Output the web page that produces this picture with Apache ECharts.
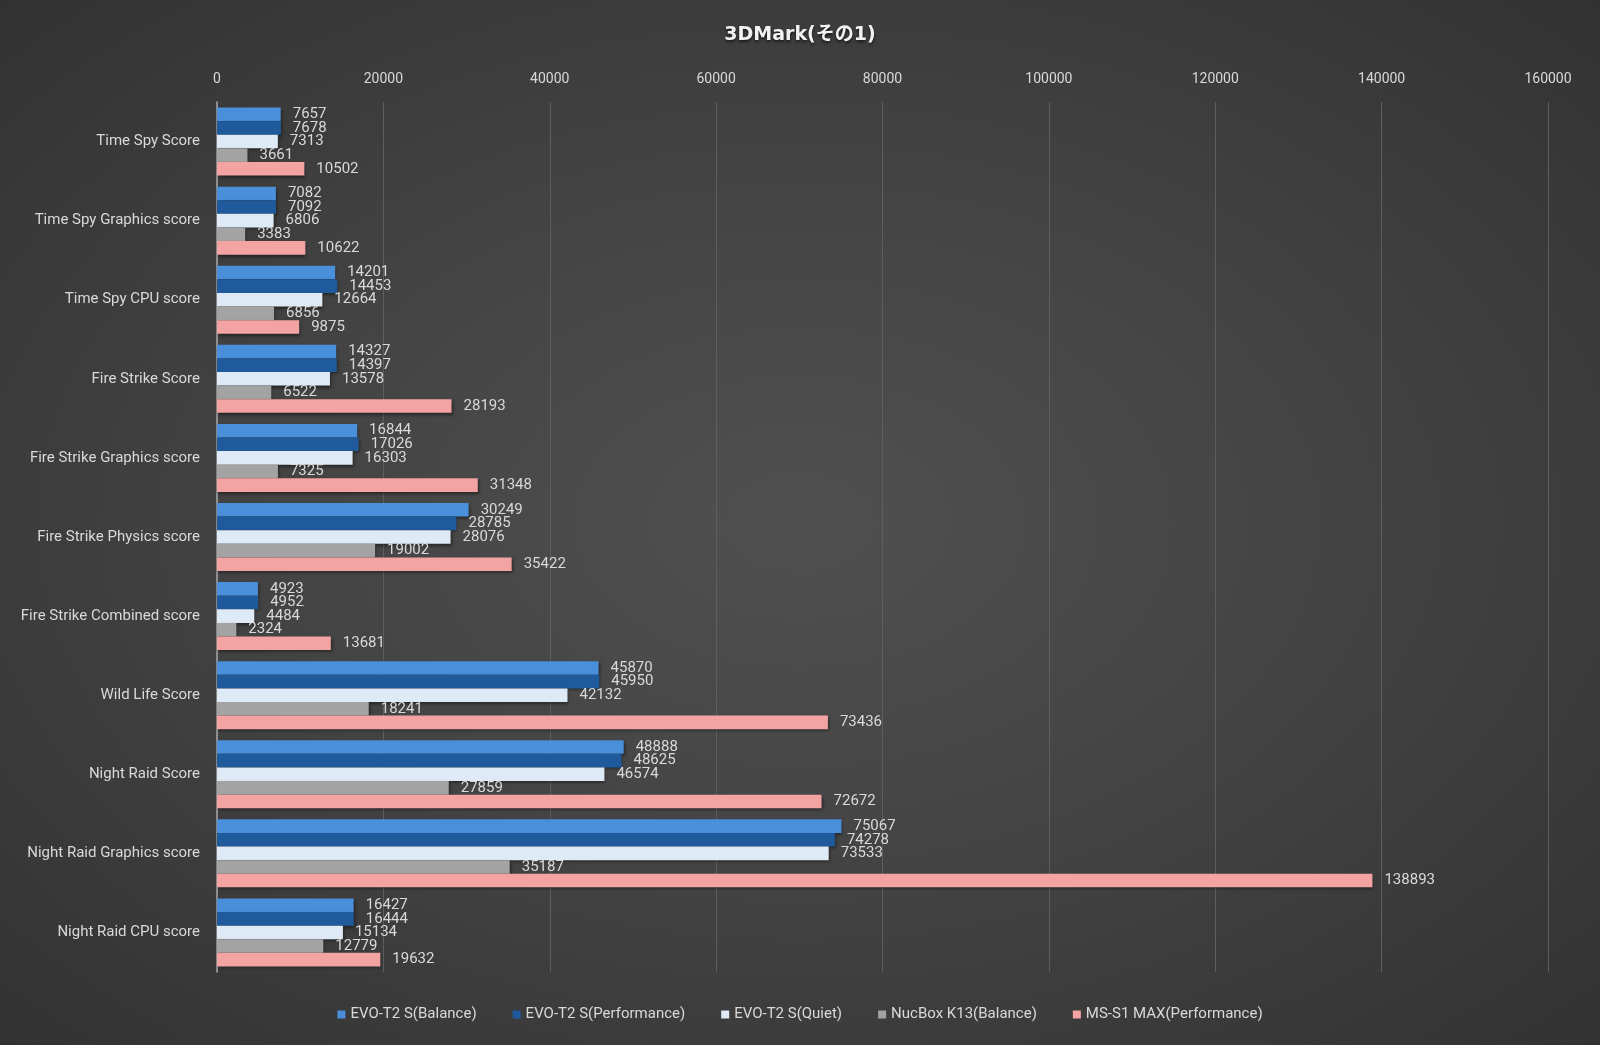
<!DOCTYPE html>
<html lang="ja">
<head>
    <meta charset="UTF-8">
    <title>3DMark</title>
    <script src="https://cdn.jsdelivr.net/npm/echarts@6/dist/echarts.min.js"></script>
    <style>
        *{ margin:0; padding:0; }
        html, body { width:1600px; height:1045px; overflow:hidden; }
        #main {
            width:1600px; height:1045px;
            background: radial-gradient(ellipse at 50% 50%, #505050 0%, #444444 45%, #323232 100%);
        }
    </style>
</head>
<body>
<div id="main"></div>
<script>
    var categories = ['Time Spy Score', 'Time Spy Graphics score', 'Time Spy CPU score',
        'Fire Strike Score', 'Fire Strike Graphics score', 'Fire Strike Physics score',
        'Fire Strike Combined score', 'Wild Life Score', 'Night Raid Score',
        'Night Raid Graphics score', 'Night Raid CPU score'];

    var seriesNames = ['EVO-T2 S(Balance)', 'EVO-T2 S(Performance)', 'EVO-T2 S(Quiet)',
        'NucBox K13(Balance)', 'MS-S1 MAX(Performance)'];

    var evoBalance     = [7657, 7082, 14201, 14327, 16844, 30249, 4923, 45870, 48888, 75067, 16427];
    var evoPerformance = [7678, 7092, 14453, 14397, 17026, 28785, 4952, 45950, 48625, 74278, 16444];
    var evoQuiet       = [7313, 6806, 12664, 13578, 16303, 28076, 4484, 42132, 46574, 73533, 15134];
    var nucboxBalance  = [3661, 3383, 6856, 6522, 7325, 19002, 2324, 18241, 27859, 35187, 12779];
    var msS1Max        = [10502, 10622, 9875, 28193, 31348, 35422, 13681, 73436, 72672, 138893, 19632];

    var colors = ['#4a8fda', '#1f5b9c', '#deebf7', '#a3a3a3', '#f4a3a3'];

    var chart = echarts.init(document.getElementById('main'));

    var seriesData = [evoBalance, evoPerformance, evoQuiet, nucboxBalance, msS1Max];
    var series = seriesData.map(function (d, i) {
        return {
            name: seriesNames[i],
            type: 'bar',
            data: d,
            barGap: '0%',
            barCategoryGap: '14%',
            itemStyle: {
                color: colors[i],
                shadowColor: 'rgba(0,0,0,0.45)',
                shadowBlur: 3,
                shadowOffsetX: 1,
                shadowOffsetY: 2
            },
            label: {
                show: true,
                position: 'right',
                distance: 12,
                color: '#d9d9d9',
                fontSize: 15,
                fontFamily: 'Roboto, "Noto Sans", sans-serif'
            }
        };
    });

    var option = {
        title: {
            text: '3DMark(その1)',
            left: 'center',
            top: 21,
            textStyle: {
                color: '#f2f2f2',
                fontSize: 19,
                fontWeight: 'bold',
                fontFamily: '"DejaVu Sans", "Noto Sans CJK JP", sans-serif',
                textShadowColor: 'rgba(0,0,0,0.6)',
                textShadowBlur: 3,
                textShadowOffsetY: 2
            }
        },
        legend: {
            data: seriesNames,
            bottom: 18,
            left: 'center',
            itemWidth: 8,
            itemHeight: 8,
            itemGap: 36,
            itemTextGap: 5,
            icon: 'rect',
            textStyle: {
                color: '#d9d9d9',
                fontSize: 15,
                fontFamily: 'Roboto, "Noto Sans", sans-serif'
            }
        },
        grid: {
            left: 217,
            right: 52,
            top: 102,
            bottom: 73,
            containLabel: false
        },
        xAxis: {
            type: 'value',
            position: 'top',
            min: 0,
            max: 160000,
            interval: 20000,
            axisLine: { show: false },
            axisTick: { show: false },
            splitLine: { lineStyle: { color: '#5e5e5e', width: 1 } },
            axisLabel: {
                color: '#d9d9d9',
                fontSize: 14,
                margin: 16,
                formatter: function (v) { return String(v); },
                fontFamily: 'Roboto, "Noto Sans", sans-serif'
            }
        },
        yAxis: {
            type: 'category',
            data: categories,
            inverse: true,
            axisLine: { show: true, lineStyle: { color: '#a6a6a6', width: 1.5 } },
            axisTick: { show: false },
            axisLabel: {
                color: '#d9d9d9',
                fontSize: 15,
                margin: 17,
                fontFamily: 'Roboto, "Noto Sans", sans-serif'
            }
        },
        series: series
    };

    chart.setOption(option);
</script>
</body>
</html>
